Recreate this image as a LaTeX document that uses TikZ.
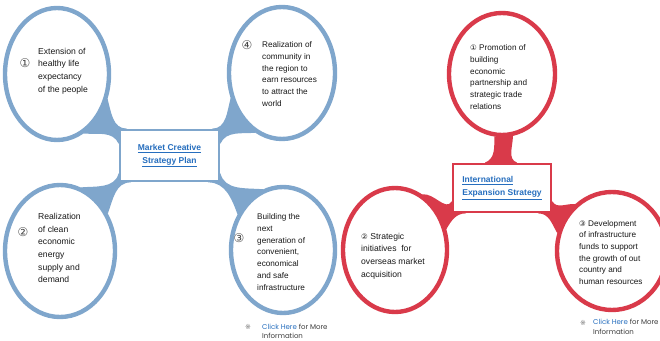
\documentclass[tikz,border=0pt]{standalone}
\usepackage{fontspec}
\setmainfont{Liberation Sans}
\newfontfamily\symfont{DejaVu Sans}
\newfontfamily\notefont{Poppins}
\usetikzlibrary{shapes.geometric,backgrounds}
\definecolor{ringblue}{RGB}{127,166,204}
\definecolor{ringred}{RGB}{217,58,74}
\definecolor{linkblue}{RGB}{38,110,190}
\definecolor{bodytext}{RGB}{25,25,25}
\begin{document}
\begin{tikzpicture}[x=1pt, y=1pt,
        bubble/.style={ellipse, draw, line width=4.4pt, fill=white, inner sep=0pt},
        bluebubble/.style={bubble, draw=ringblue},
        redbubble/.style={bubble, draw=ringred},
        titlebox/.style={rectangle, draw, line width=2.8pt, fill=white, inner sep=0pt,
            font=\fontsize{8.5}{12.8}\selectfont\bfseries, text=linkblue},
        body/.style={anchor=west, align=left, inner sep=0pt, text=bodytext,
            font=\fontsize{8.6}{12.7}\selectfont},
        tight/.style={body, font=\fontsize{8.2}{11.7}\selectfont},
        num/.style={inner sep=0pt, text=bodytext!80, font=\symfont\fontsize{12}{12}\selectfont},
        note/.style={anchor=west, align=left, inner sep=0pt, text=bodytext!85,
            font=\notefont\fontsize{7}{9.5}\selectfont},
        refmark/.style={inner sep=0pt, text=bodytext!60, font=\symfont\fontsize{7}{7}\selectfont}
    ]
        \useasboundingbox (0,0) rectangle (660,340);

        % Sơ đồ bên trái
        \node [titlebox, draw=ringblue, align=center, minimum width=99pt, minimum height=51pt] (plan) at (169.5,184.5)
            {\underline{Market Creative}\\\underline{Strategy Plan}};
        \node [bluebubble, minimum width=104pt, minimum height=132pt] (ext) at (57,266) {};
        \node [bluebubble, minimum width=106pt, minimum height=132pt] (comm) at (282,267) {};
        \node [bluebubble, minimum width=110pt, minimum height=132pt] (energy) at (60,89) {};
        \node [bluebubble, minimum width=104pt, minimum height=126pt] (infra) at (283,90) {};

        % Sơ đồ bên phải
        \node [titlebox, draw=ringred, align=left, minimum width=98pt, minimum height=48pt] (expand) at (502,152)
            {\underline{International}\\\underline{Expansion Strategy}};
        \node [redbubble, minimum width=106pt, minimum height=122pt] (promo) at (502,266) {};
        \node [redbubble, minimum width=104pt, minimum height=124pt] (init) at (395,90) {};
        \node [redbubble, minimum width=110pt, minimum height=118pt] (fund) at (612,89) {};

        % Các nhánh nối
        \begin{scope}[on background layer]
            \fill [ringblue] (ext.-26) to[out=-75, in=180] ([xshift=8pt]plan.north west) -- (plan.center)
                -- ([yshift=-15pt]plan.north west) to[out=115, in=-5] (ext.-66) -- cycle;
            \fill [ringblue] (comm.-154) to[out=-105, in=0] ([xshift=-8pt]plan.north east) -- (plan.center)
                -- ([yshift=-15pt]plan.north east) to[out=65, in=185] (comm.-114) -- cycle;
            \fill [ringblue] ([yshift=9pt]plan.south west) to[out=-105, in=5] (energy.72)
                -- (energy.38) to[out=70, in=180] ([xshift=12pt]plan.south west) -- (plan.center) -- cycle;
            \fill [ringblue] ([yshift=9pt]plan.south east) to[out=-75, in=175] (infra.108)
                -- (infra.142) to[out=110, in=0] ([xshift=-12pt]plan.south east) -- (plan.center) -- cycle;
            \fill [ringred] (promo.-97) to[out=-90, in=20] ([xshift=-17pt]expand.north) -- (expand.center)
                -- ([xshift=15pt]expand.north) to[out=160, in=-90] (promo.-80) -- cycle;
            \fill [ringred] ([yshift=12pt]expand.south west) to[out=-120, in=10] (init.64)
                -- (init.22) to[out=60, in=180] ([xshift=14pt]expand.south west) -- (expand.center) -- cycle;
            \fill [ringred] ([yshift=12pt]expand.south east) to[out=-60, in=175] (fund.128)
                -- (fund.162) to[out=120, in=0] ([xshift=-14pt]expand.south east) -- (expand.center) -- cycle;
        \end{scope}

        % Chữ trong các vòng tròn
        \node [num] (n1) at (25,277) {①};
        \node [body] (t1) at (38,269) {Extension of\\healthy life\\expectancy\\of the people};
        \node [num] (n4) at (247,295) {④};
        \node [tight] (t4) at (262,266) {Realization of\\community in\\the region to\\earn resources\\to attract the\\world};
        \node [num] (n2) at (23,108) {②};
        \node [body] (t2) at (38,92) {Realization\\of clean\\economic\\energy\\supply and\\demand};
        \node [num] (n3) at (239,102) {③};
        \node [tight] (t3) at (257,88) {Building the\\next\\generation of\\convenient,\\economical\\and safe\\infrastructure};

        \node [tight] (p1) at (470,263) {{\symfont\fontsize{7.5}{7.5}\selectfont ①} Promotion of\\building\\economic\\partnership and\\strategic trade\\relations};
        \node [body] (p2) at (361,84) {{\symfont\fontsize{7.5}{7.5}\selectfont ②} Strategic\\initiatives\ \ for\\overseas market\\acquisition};
        \node [tight] (p3) at (579,87.5) {{\symfont\fontsize{7.5}{7.5}\selectfont ③} Development\\of infrastructure\\funds to support\\the growth of out\\country and\\human resources};

        % Ghi chú
        \node [refmark] (m1) at (248,13) {※};
        \node [note] (k1) at (262,8.5) {\textcolor{linkblue}{Click Here} for More\\Information};
        \node [refmark] (m2) at (583,17) {※};
        \node [note] (k2) at (593,13) {\textcolor{linkblue}{Click Here} for More\\Information};
    \end{tikzpicture}
\end{document}
